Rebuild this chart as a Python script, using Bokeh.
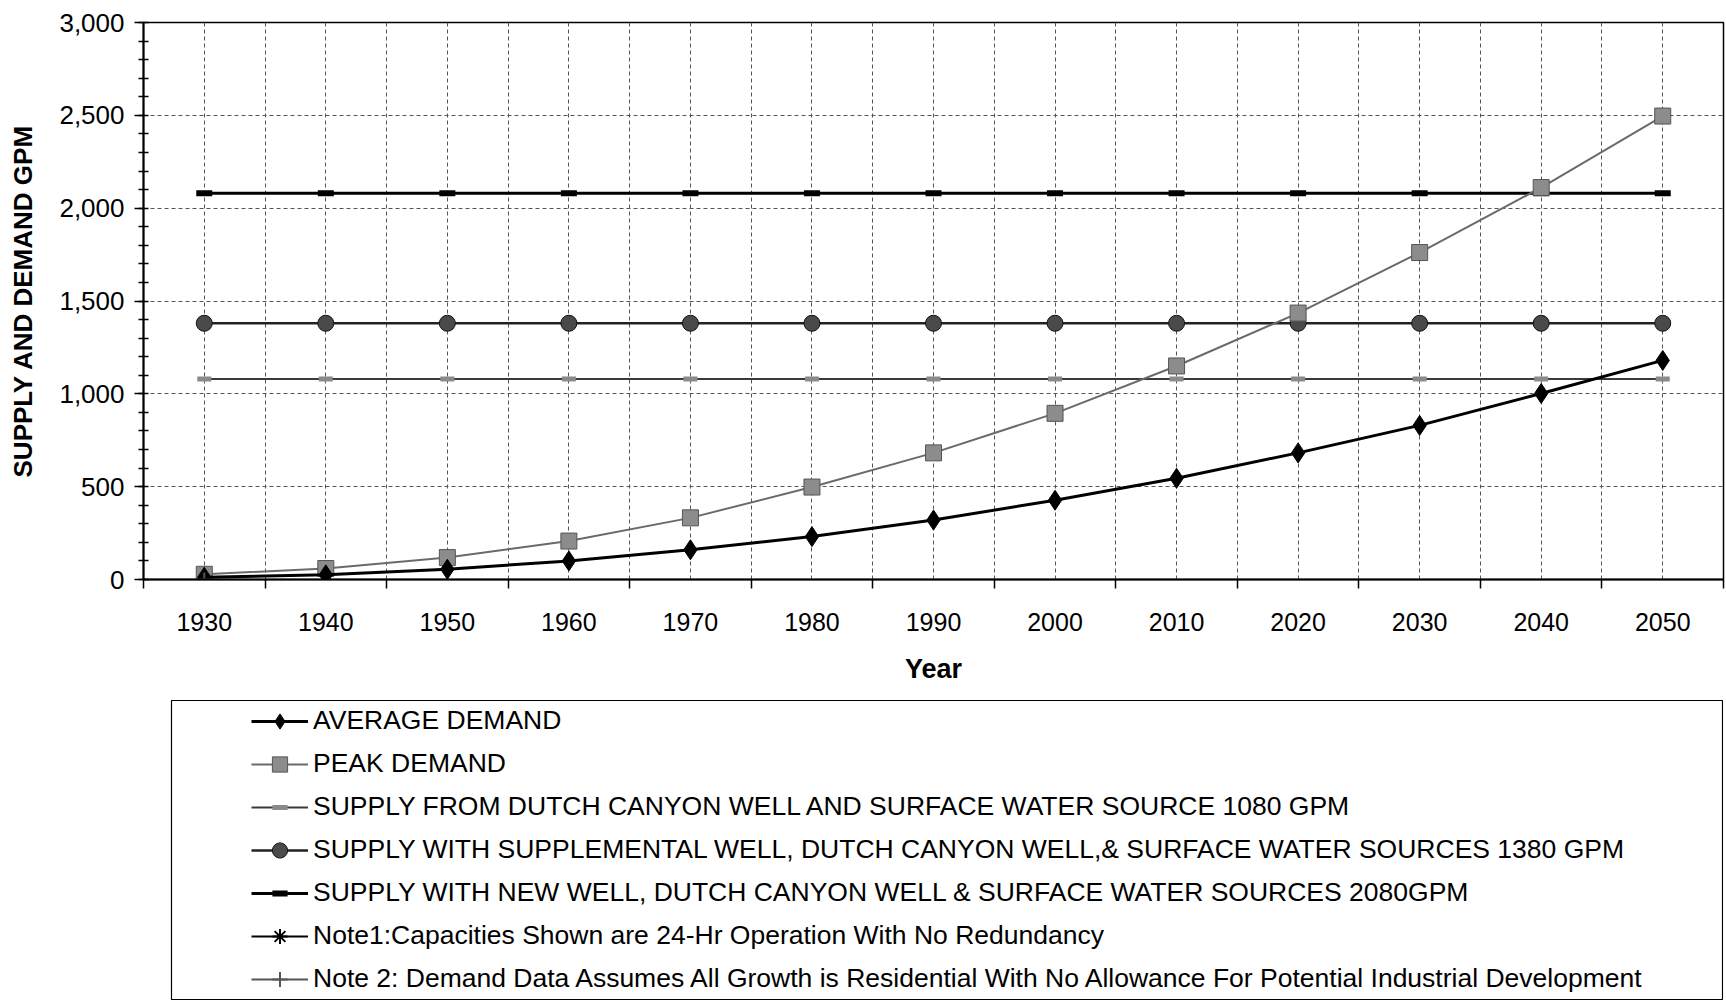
from bokeh.plotting import figure
from bokeh.layouts import column
from bokeh.models import (Legend, LegendItem, FixedTicker, SingleIntervalTicker,
                          NumeralTickFormatter, Range1d, BoxAnnotation)
from bokeh.embed import file_html
from bokeh.resources import INLINE

# ---- data ----
years = [1930, 1940, 1950, 1960, 1970, 1980, 1990, 2000, 2010, 2020, 2030, 2040, 2050]
average_demand = [12, 25, 55, 100, 160, 231, 320, 427, 545, 682, 830, 1002, 1180]
peak_demand = [28, 59, 118, 207, 332, 498, 682, 895, 1150, 1435, 1761, 2111, 2496]
supply_1080 = [1080, 1080, 1080, 1080, 1080, 1080, 1080, 1080, 1080, 1080, 1080, 1080, 1080]
supply_1380 = [1380, 1380, 1380, 1380, 1380, 1380, 1380, 1380, 1380, 1380, 1380, 1380, 1380]
supply_2080 = [2080, 2080, 2080, 2080, 2080, 2080, 2080, 2080, 2080, 2080, 2080, 2080, 2080]
note1_years = [1930]
note1_values = [0]
note2_years = [1930]
note2_values = [0]
x_tick_labels = years
x_boundaries = [1925, 1935, 1945, 1955, 1965, 1975, 1985, 1995, 2005, 2015, 2025, 2035, 2045, 2055]

labels = [
    "AVERAGE DEMAND",
    "PEAK DEMAND",
    "SUPPLY FROM DUTCH CANYON WELL AND SURFACE WATER SOURCE 1080 GPM",
    "SUPPLY WITH SUPPLEMENTAL WELL, DUTCH CANYON WELL,& SURFACE WATER SOURCES 1380 GPM",
    "SUPPLY WITH NEW WELL, DUTCH CANYON WELL & SURFACE WATER SOURCES 2080GPM",
    "Note1:Capacities Shown are 24-Hr Operation With No Redundancy",
    "Note 2: Demand Data Assumes All Growth is Residential With No Allowance For Potential Industrial Development",
]

FONT = "Liberation Sans"

# series styles: (line kwargs, marker kwargs)
styles = [
    (dict(line_color="black", line_width=3),
     dict(marker="diamond", size=20, fill_color="black", line_color="black")),
    (dict(line_color="#6a6a6a", line_width=2),
     dict(marker="square", size=16, fill_color="#8c8c8c", line_color="#555555", line_width=1)),
    (dict(line_color="#3a3a3a", line_width=2),
     dict(marker="dash", size=14, line_color="#8a8a8a", line_width=5)),
    (dict(line_color="#222222", line_width=2.5),
     dict(marker="circle", size=16, fill_color="#4a4a4a", line_color="#111111", line_width=1)),
    (dict(line_color="black", line_width=3),
     dict(marker="dash", size=16, line_color="black", line_width=6)),
    (dict(line_color="black", line_width=2),
     dict(marker="asterisk", size=14, line_color="black", line_width=2)),
    (dict(line_color="#555555", line_width=2),
     dict(marker="cross", size=14, line_color="#555555", line_width=2)),
]

series = [
    (years, average_demand),
    (years, peak_demand),
    (years, supply_1080),
    (years, supply_1380),
    (years, supply_2080),
    (note1_years, note1_values),
    (note2_years, note2_values),
]

# ---------------- main chart ----------------
p = figure(width=1726, height=699,
           x_range=Range1d(1925, 2055), y_range=Range1d(0, 3000),
           output_backend="svg", toolbar_location=None,
           min_border_left=143, min_border_right=3, min_border_top=22, min_border_bottom=120)
p.background_fill_color = "white"
p.border_fill_color = "white"
p.outline_line_color = "black"
p.outline_line_width = 1.5

p.xgrid.grid_line_color = "#555555"
p.xgrid.grid_line_dash = "4 3"
p.xgrid.grid_line_width = 1
p.xgrid.minor_grid_line_color = "#555555"
p.xgrid.minor_grid_line_dash = "4 3"
p.xgrid.minor_grid_line_width = 1
p.ygrid.grid_line_color = "#555555"
p.ygrid.grid_line_dash = "4 3"
p.ygrid.grid_line_width = 1

xa = p.xaxis[0]
xa.ticker = FixedTicker(ticks=x_tick_labels, minor_ticks=x_boundaries)
xa.major_tick_out = 0
xa.major_tick_in = 0
xa.minor_tick_out = 9
xa.minor_tick_in = 0
xa.minor_tick_line_color = "black"
xa.minor_tick_line_width = 1.5
xa.axis_line_color = "black"
xa.axis_line_width = 2
xa.major_label_standoff = 24
xa.major_label_text_font = FONT
xa.major_label_text_font_size = "25px"
xa.major_label_text_color = "black"
xa.axis_label = "Year"
xa.axis_label_text_font = FONT
xa.axis_label_text_font_size = "27px"
xa.axis_label_text_font_style = "bold"
xa.axis_label_text_color = "black"
xa.axis_label_standoff = 20

ya = p.yaxis[0]
ya.ticker = SingleIntervalTicker(interval=500, num_minor_ticks=5)
ya.formatter = NumeralTickFormatter(format="0,0")
ya.major_tick_out = 9
ya.major_tick_in = 0
ya.minor_tick_out = 5
ya.minor_tick_in = 5
ya.major_tick_line_color = "black"
ya.minor_tick_line_color = "black"
ya.major_tick_line_width = 1.5
ya.minor_tick_line_width = 1.5
ya.axis_line_color = "black"
ya.axis_line_width = 2
ya.major_label_standoff = 10
ya.major_label_text_font = FONT
ya.major_label_text_font_size = "26px"
ya.major_label_text_color = "black"
ya.axis_label = "SUPPLY AND DEMAND GPM"
ya.axis_label_text_font = FONT
ya.axis_label_text_font_size = "26px"
ya.axis_label_text_font_style = "bold"
ya.axis_label_text_color = "black"
ya.axis_label_standoff = 18

draw_order = [2, 3, 4, 1, 0, 5, 6]
for i in draw_order:
    xs, ys = series[i]
    lk, mk = styles[i]
    p.line(xs, ys, **lk)
    p.scatter(xs, ys, **mk)

# ---------------- legend box (separate figure below) ----------------
lg = figure(width=1726, height=301, x_range=Range1d(0, 1), y_range=Range1d(0, 1),
            output_backend="svg", toolbar_location=None,
            x_axis_type=None, y_axis_type=None,
            min_border_left=143, min_border_right=3, min_border_top=0, min_border_bottom=0)
lg.xgrid.visible = False
lg.ygrid.visible = False
lg.outline_line_color = None
lg.background_fill_color = "white"
lg.border_fill_color = "white"

# legend-only renderers: same series, but outside this figure's visible range
items = []
for i, lab in enumerate(labels):
    xs, ys = series[i]
    lk, mk = styles[i]
    lr = lg.line(xs, ys, **lk)
    mr = lg.scatter(xs, ys, **mk)
    items.append(LegendItem(label=lab, renderers=[lr, mr]))

legend = Legend(items=items, location=(108, 0), orientation="vertical",
                border_line_alpha=0, background_fill_alpha=0,
                padding=0, spacing=0, margin=0,
                label_height=43, glyph_height=38, glyph_width=57, label_standoff=5,
                label_text_font=FONT, label_text_font_size="26.5px", label_text_color="black")
lg.add_layout(legend, "center")

box = BoxAnnotation(left=171, right=1722, top=1, bottom=300,
                    left_units="canvas", right_units="canvas",
                    top_units="canvas", bottom_units="canvas",
                    fill_alpha=0, line_color="black", line_alpha=1.0, line_width=1.2)
lg.add_layout(box)

layout = column(p, lg, spacing=0)
open("out.html", "w").write(file_html(layout, INLINE))
